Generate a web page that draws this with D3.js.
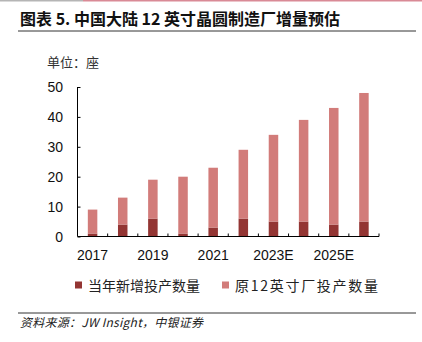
<!DOCTYPE html>
<html><head><meta charset="utf-8">
<script src="https://cdn.jsdelivr.net/npm/d3@7"></script>
<style>body{margin:0;background:#fff;}svg{display:block;}</style>
</head><body><div id="chart"></div>
<script>
const categories = ["2017","2018","2019","2020","2021","2022","2023E","2024E","2025E","2026E"];
const tickLabels = ["2017","2019","2021","2023E","2025E"];
const newFabs = [1,4,6,1,3,6,5,5,4,5];
const existingFabs = [8,9,13,19,20,23,29,34,39,43];
const seriesNames = ["当年新增投产数量","原12英寸厂投产数量"];
const yTicks = [0,10,20,30,40,50];

const W=422,H=342;
const svg=d3.select("#chart").append("svg").attr("width",W).attr("height",H);
const cjk='"Noto Sans CJK SC","Noto Sans CJK JP",sans-serif';
const colors=["#933533","#D27C7A"];

// top lines
svg.append("rect").attr("x",0).attr("y",0).attr("width",83).attr("height",1.5).attr("fill","#b5b5b5");
svg.append("rect").attr("x",83).attr("y",0).attr("width",W-83).attr("height",1.5).attr("fill","#d98a96");
svg.append("text").attr("x",20).attr("y",25).attr("font-family",cjk).attr("font-weight","bold")
  .attr("font-size",16).attr("fill","#111").attr("textLength",320).attr("lengthAdjust","spacingAndGlyphs")
  .text("图表 5. 中国大陆 12 英寸晶圆制造厂增量预估");
svg.append("line").attr("x1",18).attr("x2",416).attr("y1",31).attr("y2",31).attr("stroke","#333").attr("stroke-width",1);

svg.append("text").attr("x",47).attr("y",67).attr("font-family",cjk).attr("font-size",13).attr("fill","#333").text("单位：座");

const x=d3.scaleBand().domain(categories).range([77.5,379]);
const y=d3.scaleLinear().domain([0,50]).range([236.5,87]);

const data=categories.map((c,i)=>({c,a:newFabs[i],b:existingFabs[i]}));
const stack=d3.stack().keys(["a","b"])(data);
const bw=9.5;
svg.append("g").selectAll("g").data(stack).join("g").attr("fill",(d,i)=>colors[i])
 .selectAll("rect").data(d=>d).join("rect")
 .attr("x",d=>x(d.data.c)+x.bandwidth()/2-bw/2).attr("width",bw)
 .attr("y",d=>y(d[1])).attr("height",d=>y(d[0])-y(d[1]));

// y axis
const ya=svg.append("g").attr("transform","translate(77.5,0)")
 .call(d3.axisRight(y).tickValues(yTicks).tickSize(3).tickFormat(""));
ya.select(".domain").attr("d","M0,"+y(50)+"V"+y(0));
ya.selectAll("line,path").attr("stroke","#000");
svg.append("g").selectAll("text").data(yTicks).join("text")
 .attr("x",63).attr("y",d=>y(d)+5).attr("text-anchor","end")
 .attr("font-family","Liberation Sans, Arial, sans-serif").attr("font-size",14).attr("fill","#111").text(d=>d);

// x axis
const xa=svg.append("g").attr("transform","translate(0,236.5)");
xa.append("line").attr("x1",77.5).attr("x2",379).attr("stroke","#000");
const bounds=categories.map((c,i)=>x(c)+x.bandwidth());
xa.selectAll(".t").data(bounds).join("line").attr("x1",d=>d).attr("x2",d=>d).attr("y1",0).attr("y2",-3).attr("stroke","#000");
svg.append("g").selectAll("text").data(tickLabels).join("text")
 .attr("x",d=>x(d)+x.bandwidth()/2).attr("y",260).attr("text-anchor","middle")
 .attr("font-family","Liberation Sans, Arial, sans-serif").attr("font-size",14).attr("fill","#111").text(d=>d);

// legend
const leg=[{x:75,t:seriesNames[0],len:112},{x:222,t:seriesNames[1],len:143}];
leg.forEach((l,i)=>{
 svg.append("rect").attr("x",l.x).attr("y",281.5).attr("width",7).attr("height",7).attr("fill",colors[i]);
 svg.append("text").attr("x",l.x+13).attr("y",290.5).attr("font-family",cjk).attr("font-size",14).attr("fill","#222")
  .attr("textLength",l.len).attr("lengthAdjust","spacing").text(l.t);
});

svg.append("line").attr("x1",18).attr("x2",416).attr("y1",313).attr("y2",313).attr("stroke","#333").attr("stroke-width",1);
svg.append("text").attr("x",20).attr("y",327).attr("font-family",cjk).attr("font-style","italic").attr("font-size",12).attr("fill","#222")
 .attr("textLength",183).attr("lengthAdjust","spacing")
 .text("资料来源：JW Insight，中银证券");
</script></body></html>
